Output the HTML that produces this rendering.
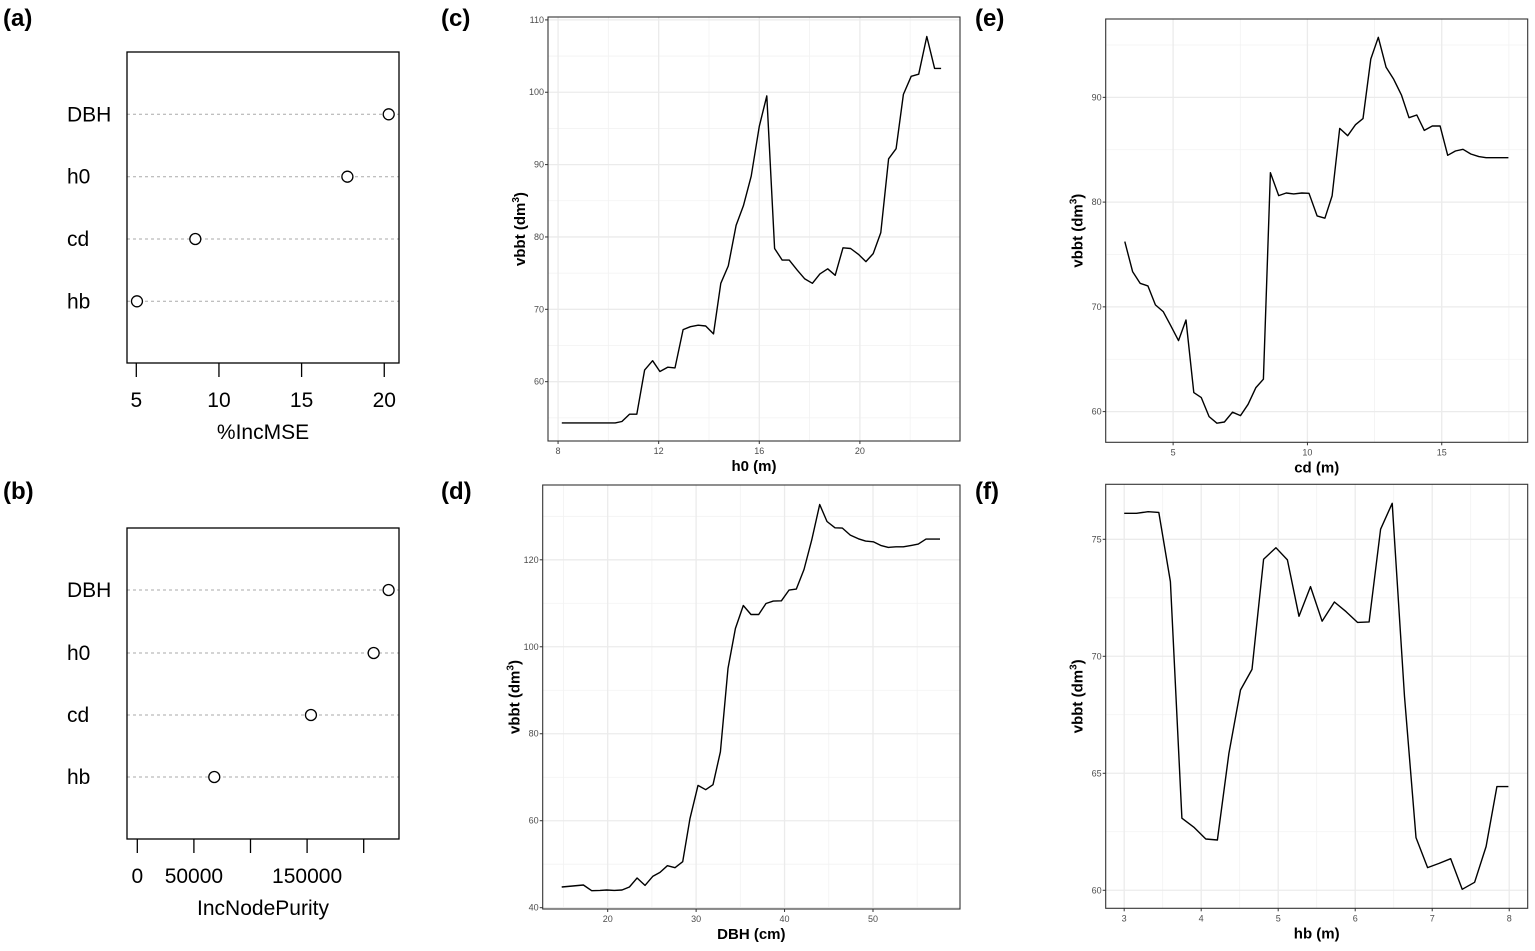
<!DOCTYPE html>
<html><head><meta charset="utf-8"><style>
html,body{margin:0;padding:0;background:#fff;}
svg{display:block;font-family:"Liberation Sans",Arial,sans-serif;}
</style></head><body>
<svg id="fig" width="1535" height="951" viewBox="0 0 1535 951" xmlns="http://www.w3.org/2000/svg"></svg>
<script>
// ---- data ----
const dotLabels = ["DBH","h0","cd","hb"];
const incMSE = [20.27, 17.77, 8.57, 5.04];
const incNodePurity = [222000, 208800, 153400, 68000];
const msTicks = [5,10,15,20];
const npTicks = [0,50000,100000,150000,200000];
const npTickLabels = ["0","50000","","150000",""];

const h0X = [8.15,10.27,10.54,10.84,11.13,11.44,11.76,12.05,12.36,12.65,12.97,13.26,13.57,13.87,14.18,14.47,14.77,15.08,15.37,15.68,16.0,16.3,16.61,16.91,17.19,17.51,17.81,18.11,18.41,18.72,19.02,19.33,19.63,19.94,20.24,20.53,20.83,21.14,21.44,21.73,22.04,22.34,22.66,22.97,23.23];
const h0Y = [54.3,54.3,54.5,55.5,55.5,61.6,62.9,61.4,62.0,61.9,67.2,67.6,67.8,67.7,66.6,73.6,76.0,81.6,84.3,88.4,95.3,99.5,78.4,76.8,76.8,75.4,74.2,73.6,74.9,75.6,74.7,78.5,78.4,77.6,76.6,77.7,80.6,90.8,92.2,99.7,102.2,102.5,107.7,103.3,103.3];

const dbhX = [14.80,16.04,17.25,18.19,19.13,19.89,20.75,21.62,22.45,23.32,24.22,25.09,25.92,26.75,27.61,28.48,29.31,30.21,31.08,31.91,32.74,33.61,34.44,35.34,36.21,37.08,37.90,38.73,39.64,40.50,41.33,42.20,43.07,43.97,44.80,45.71,46.54,47.44,48.35,49.17,50.04,50.87,51.74,52.60,53.43,54.34,55.13,56.0,57.58];
const dbhY = [44.75,44.98,45.21,43.91,43.98,44.06,43.98,44.06,44.75,46.82,45.13,47.20,48.12,49.66,49.20,50.57,60.54,68.12,67.13,68.28,75.86,95.02,104.21,109.50,107.43,107.43,109.96,110.50,110.57,113.03,113.26,117.78,124.52,132.72,128.81,127.36,127.28,125.67,124.83,124.29,124.14,123.30,122.84,122.99,122.99,123.30,123.60,124.75,124.75];

const cdX = [3.20,3.49,3.77,4.06,4.34,4.63,4.91,5.20,5.48,5.77,6.05,6.34,6.63,6.91,7.21,7.51,7.79,8.08,8.36,8.62,8.93,9.21,9.49,9.79,10.06,10.36,10.65,10.92,11.20,11.50,11.79,12.07,12.36,12.64,12.93,13.21,13.50,13.78,14.07,14.35,14.65,14.94,15.22,15.51,15.79,16.08,16.38,16.65,17.48];
const cdY = [76.23,73.37,72.25,72.0,70.19,69.55,68.21,66.78,68.75,61.81,61.34,59.52,58.89,59.01,59.94,59.62,60.70,62.29,63.09,82.81,80.62,80.87,80.78,80.87,80.84,78.68,78.46,80.59,87.04,86.34,87.39,87.97,93.66,95.73,92.87,91.72,90.23,88.06,88.32,86.85,87.27,87.27,84.47,84.88,85.04,84.59,84.34,84.24,84.24];

const hbX = [3.0,3.16,3.31,3.45,3.60,3.75,3.91,4.06,4.21,4.36,4.51,4.66,4.81,4.97,5.12,5.27,5.42,5.57,5.73,5.88,6.03,6.18,6.33,6.48,6.64,6.79,6.94,7.09,7.24,7.39,7.55,7.70,7.84,7.99];
const hbY = [76.11,76.11,76.18,76.15,73.19,63.08,62.68,62.19,62.15,65.85,68.56,69.44,74.15,74.64,74.12,71.71,72.98,71.50,72.32,71.91,71.45,71.47,75.43,76.54,68.28,62.25,60.97,61.15,61.35,60.04,60.34,61.87,64.43,64.43];

const cXt=[8,12,16,20], cYt=[60,70,80,90,100,110];
const dXt=[20,30,40,50], dYt=[40,60,80,100,120];
const eXt=[5,10,15], eYt=[60,70,80,90];
const fXt=[3,4,5,6,7,8], fYt=[60,65,70,75];

// ---- drawing ----
const NS="http://www.w3.org/2000/svg";
const svg=document.getElementById('fig');
function mk(tag,attrs,parent){const e=document.createElementNS(NS,tag);for(const k in attrs)e.setAttribute(k,attrs[k]);(parent||svg).appendChild(e);return e;}
function txt(s,attrs,parent){const e=mk('text',attrs,parent);e.textContent=s;return e;}

// panel letters
[["(a)",3,26],["(b)",3,499],["(c)",441,26],["(d)",441,499],["(e)",975,26],["(f)",975,499]].forEach(p=>{
  const t=txt(p[0],{x:p[1],y:p[2],'font-size':24,'font-weight':'bold'});
  
  
});

function dotchart(name,vals,x0v,scale,ticks,tickLabels,top,rowsY,title){
  const g=mk('g',{});
  
  
  const L=127,R=399,T=top,B=top+311;
  const px=v=>x0v.px+(v-x0v.v)*scale;
  rowsY.forEach((ry,i)=>{
    const ln=mk('line',{x1:L,x2:R,y1:top+ry,y2:top+ry,stroke:'#aaa','stroke-dasharray':'3,3','stroke-width':1},g);
    
    
    const lb=txt(dotLabels[i],{x:67,y:top+ry+7,'font-size':21},g);
    
    
    const c=mk('circle',{cx:px(vals[i]),cy:top+ry,r:5.5,fill:'#fff',stroke:'#000','stroke-width':1.3},g);
    
    
  });
  const box=mk('rect',{x:L,y:T,width:R-L,height:B-T,fill:'none',stroke:'#000','stroke-width':1.3},g);
  
  
  ticks.forEach((t,i)=>{
    const x=px(t);
    const tk=mk('line',{x1:x,x2:x,y1:B,y2:B+14,stroke:'#000','stroke-width':1.3},g);
    
    
    if(tickLabels[i]){const tl=txt(tickLabels[i],{x:x,y:B+44,'text-anchor':'middle','font-size':21},g);
      
      }
  });
  const at=txt(title,{x:263,y:B+76,'text-anchor':'middle','font-size':21},g);
  
  
}
dotchart('importance-mse-chart',incMSE,{v:5,px:136.3},16.53,msTicks,msTicks.map(String),52,[62.3,124.7,187,249.3],'%IncMSE');
dotchart('importance-nodepurity-chart',incNodePurity,{v:0,px:137.3},56.6/50000,npTicks,npTickLabels,528,[62,125,187,249],'IncNodePurity');

function gg(name,box,xr,yr,xt,yt,xs,ys,xtitle){
  const g=mk('g',{});
  
  
  const [L,T,R,B]=box;
  const X=v=>L+(v-xr[0])/(xr[1]-xr[0])*(R-L);
  const Y=v=>B-(v-yr[0])/(yr[1]-yr[0])*(B-T);
  const clip=v=>v;
  // minor grid
  const dx=xt[1]-xt[0], dy=yt[1]-yt[0];
  for(let v=xt[0]-dx/2; v<=xr[1]; v+=dx){ if(v<xr[0])continue;
    const l=mk('line',{x1:X(v),x2:X(v),y1:T,y2:B,stroke:'#f2f2f2','stroke-width':0.8},g);
    
    }
  for(let v=yt[0]-dy/2; v<=yr[1]; v+=dy){ if(v<yr[0])continue;
    const l=mk('line',{x1:L,x2:R,y1:Y(v),y2:Y(v),stroke:'#f2f2f2','stroke-width':0.8},g);
    
    }
  xt.forEach(v=>{
    const l=mk('line',{x1:X(v),x2:X(v),y1:T,y2:B,stroke:'#ebebeb','stroke-width':1.3},g);
    
    
    const tk=mk('line',{x1:X(v),x2:X(v),y1:B,y2:B+3,stroke:'#333','stroke-width':1},g);
    
    
    const t=txt(String(v),{x:X(v),y:B+13,'text-anchor':'middle','font-size':9,fill:'#4d4d4d'},g);
    
    
  });
  yt.forEach(v=>{
    const l=mk('line',{x1:L,x2:R,y1:Y(v),y2:Y(v),stroke:'#ebebeb','stroke-width':1.3},g);
    
    
    const tk=mk('line',{x1:L-3,x2:L,y1:Y(v),y2:Y(v),stroke:'#333','stroke-width':1},g);
    
    
    const t=txt(String(v),{x:L-4,y:Y(v)+3,'text-anchor':'end','font-size':9,fill:'#4d4d4d'},g);
    
    
  });
  const pts=xs.map((x,i)=>X(x).toFixed(1)+','+Y(ys[i]).toFixed(1)).join(' ');
  const pl=mk('polyline',{points:pts,fill:'none',stroke:'#000','stroke-width':1.4,'stroke-linejoin':'round'},g);
  
  
  const bx=mk('rect',{x:L,y:T,width:R-L,height:B-T,fill:'none',stroke:'#333','stroke-width':1.1},g);
  
  
  const xtl=txt(xtitle,{x:(L+R)/2,y:B+30,'text-anchor':'middle','font-size':15,'font-weight':'bold'},g);
  
  
  const cy=(T+B)/2, cx=L-23;
  const ytl=mk('text',{x:cx,y:cy,'text-anchor':'middle','font-size':15,'font-weight':'bold',transform:`rotate(-90 ${cx} ${cy})`},g);
  ytl.innerHTML='vbbt (dm<tspan font-size="10" dy="-6">3</tspan><tspan dy="6">)</tspan>';
  
  
}
gg('h0-partial-plot',[548,17,960,441],[7.6,23.98],[51.8,110.4],cXt,cYt,h0X,h0Y,'h0 (m)');
gg('dbh-partial-plot',[542.7,485,960,909],[12.65,59.84],[39.7,137.2],dXt,dYt,dbhX,dbhY,'DBH (cm)');
gg('cd-partial-plot',[1105.7,19,1527.7,442.3],[2.49,18.2],[57.07,97.48],eXt,eYt,cdX,cdY,'cd (m)');
gg('hb-partial-plot',[1105.7,484.3,1527.7,908.3],[2.76,8.24],[59.23,77.35],fXt,fYt,hbX,hbY,'hb (m)');
</script>
</body></html>
